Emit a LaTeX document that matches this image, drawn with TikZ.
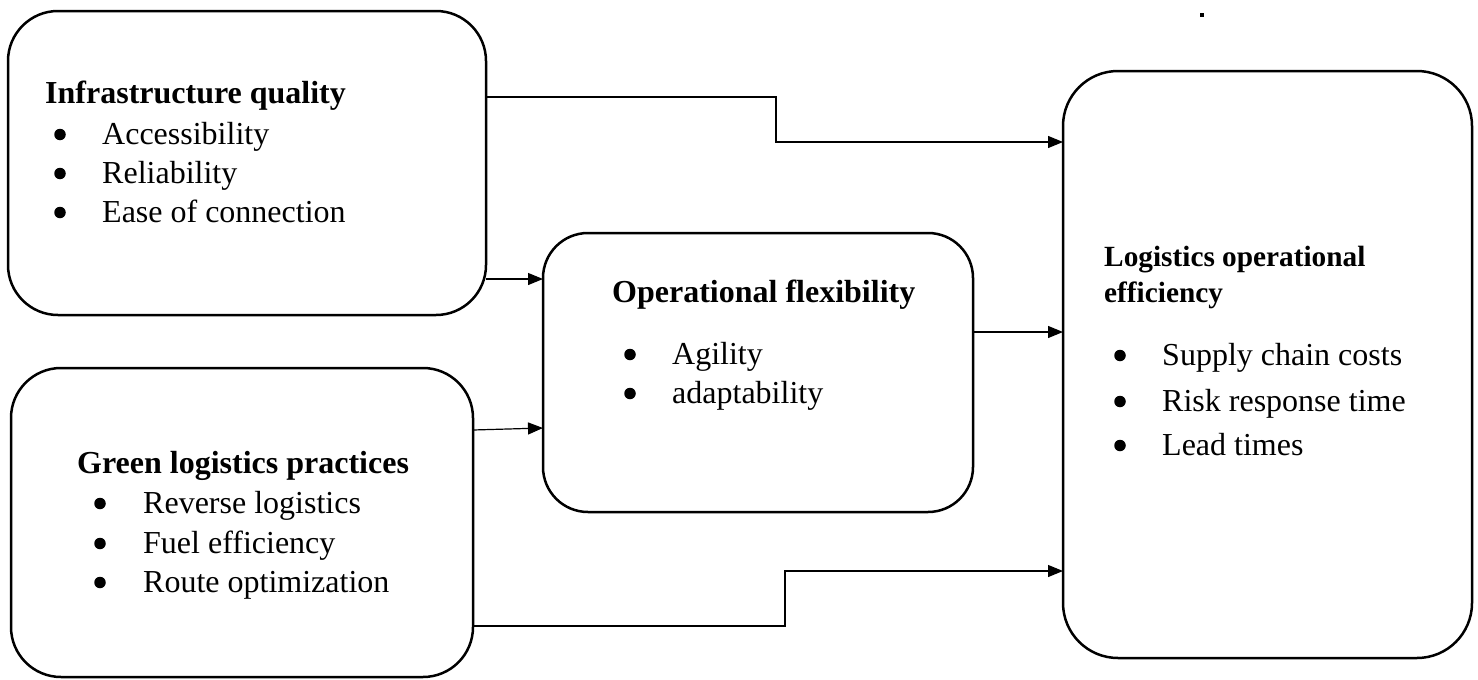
\documentclass[tikz,border=0pt]{standalone}
\usepackage{fontspec}
\setmainfont{Liberation Serif}
\usetikzlibrary{arrows.meta}
\begin{document}
\begin{tikzpicture}[x=1pt,y=-1pt,
  box/.style={draw, line width=2.5pt, inner sep=0pt, outer sep=0pt},
  conn/.style={line width=1.2pt, -{Triangle[length=15pt,width=12pt]}},
  txt/.style={anchor=base west, inner sep=0pt, font=\fontsize{32}{38}\selectfont},
  head/.style={anchor=base west, inner sep=0pt, font=\fontsize{32}{38}\selectfont\bfseries},
  headsmall/.style={anchor=base west, inner sep=0pt, font=\fontsize{29.3}{36}\selectfont\bfseries},
  bul/.style={circle, fill, inner sep=0pt, minimum size=11.5pt}]
\useasboundingbox (0,0) rectangle (1478,680);

% boxes
\node[box, rounded corners=50pt, minimum width=478pt, minimum height=304pt] (A) at (247,163) {};
\node[box, rounded corners=50pt, minimum width=462pt, minimum height=309pt] (B) at (242,522.5) {};
\node[box, rounded corners=45pt, minimum width=430pt, minimum height=279pt] (C) at (758,372.5) {};
\node[box, rounded corners=55pt, minimum width=409pt, minimum height=587pt] (D) at (1267.5,364.5) {};

% stray dot
\node[fill, inner sep=0pt, minimum size=4.5pt] (dot) at (1202,15) {};

% box A text
\node[head] (Ah) at (45,103) {Infrastructure quality};
\node[bul] (Ab1) at (60,134.5) {};
\node[txt] (At1) at (102,144) {Accessibility};
\node[bul] (Ab2) at (60,173.5) {};
\node[txt] (At2) at (102,183) {Reliability};
\node[bul] (Ab3) at (60,212.5) {};
\node[txt] (At3) at (102,222) {Ease of connection};

% box B text
\node[head] (Bh) at (77,473) {Green logistics practices};
\node[bul] (Bb1) at (100,503.5) {};
\node[txt] (Bt1) at (143,513) {Reverse logistics};
\node[bul] (Bb2) at (100,543.5) {};
\node[txt] (Bt2) at (143,553) {Fuel efficiency};
\node[bul] (Bb3) at (100,582.5) {};
\node[txt] (Bt3) at (143,592) {Route optimization};

% box C text
\node[head] (Ch) at (612,302) {Operational flexibility};
\node[bul] (Cb1) at (630,354.5) {};
\node[txt] (Ct1) at (672,364) {Agility};
\node[bul] (Cb2) at (630,393.5) {};
\node[txt] (Ct2) at (672,403) {adaptability};

% box D text
\node[headsmall] (Dh1) at (1104,266) {Logistics operational};
\node[headsmall] (Dh2) at (1104,302) {efficiency};
\node[bul] (Db1) at (1120,355.5) {};
\node[txt] (Dt1) at (1162,365) {Supply chain costs};
\node[bul] (Db2) at (1120,401.5) {};
\node[txt] (Dt2) at (1162,411) {Risk response time};
\node[bul] (Db3) at (1120,445.5) {};
\node[txt] (Dt3) at (1162,455) {Lead times};

% connector helper coordinates
\coordinate (k1) at (776,97);
\coordinate (k2) at (776,142);
\coordinate (k3) at (0,279);
\coordinate (k4) at (0,430);
\coordinate (k5) at (0,428);
\coordinate (k6) at (0,332);
\coordinate (k7) at (785,626);
\coordinate (k8) at (785,571);

% connectors
\draw[conn] (A.east |- k1) -- (k1) -- (k2) -- (D.west |- k2);
\draw[conn] (A.east |- k3) -- (C.west |- k3);
\draw[conn] (B.east |- k4) -- (C.west |- k5);
\draw[conn] (C.east |- k6) -- (D.west |- k6);
\draw[conn] (B.east |- k7) -- (k7) -- (k8) -- (D.west |- k8);
\end{tikzpicture}
\end{document}
